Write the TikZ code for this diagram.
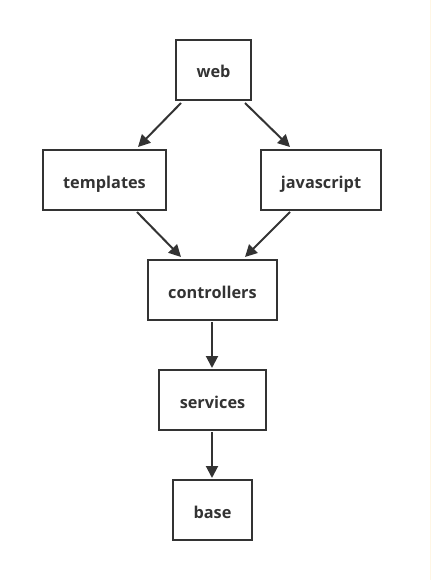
\documentclass[tikz,border=0pt]{standalone}
\usepackage{fontspec}
\setmainfont{Open Sans}
\usetikzlibrary{arrows.meta}
\definecolor{ink}{HTML}{333333}
\begin{document}
\begin{tikzpicture}[x=1pt,y=-1pt,
  box/.style={draw=ink,line width=2pt,minimum height=60pt,inner sep=0pt},
  lbl/.style={font=\fontsize{16.3}{18}\selectfont\bfseries,text=ink,inner sep=0pt,anchor=base},
  arr/.style={draw=ink,line width=2pt,-{Triangle[length=12pt,width=12pt]}}]
\useasboundingbox (0,0) rectangle (431,580);
\draw[color={rgb,255:red,255;green,246;blue,228},line width=1pt] (430,0) -- (430,580);
\node[box,minimum width=75pt] (web) at (213.5,70) {};
\node[box,minimum width=123pt] (tpl) at (104.5,180) {};
\node[box,minimum width=120pt] (js) at (321,180) {};
\node[box,minimum width=129pt] (ctl) at (212.5,290) {};
\node[box,minimum width=107pt] (svc) at (212.5,400) {};
\node[box,minimum width=79pt] (base) at (212.5,510) {};
\node[lbl] (webt) at ([yshift=-8pt]web.center) {web};
\node[lbl] (tplt) at ([yshift=-8pt]tpl.center) {templates};
\node[lbl] (jst) at ([yshift=-8pt]js.center) {javascript};
\node[lbl] (ctlt) at ([yshift=-8pt]ctl.center) {controllers};
\node[lbl] (svct) at ([yshift=-8pt]svc.center) {services};
\node[lbl] (baset) at ([yshift=-8pt]base.center) {base};
\coordinate (a1) at (181,103); \coordinate (a2) at (138,147);
\coordinate (b1) at (245,103); \coordinate (b2) at (290,147);
\coordinate (c1) at (137,212); \coordinate (c2) at (181,257);
\coordinate (d1) at (290,212); \coordinate (d2) at (245,257);
\coordinate (e1) at (212,322); \coordinate (e2) at (212,368);
\coordinate (f1) at (212,432); \coordinate (f2) at (212,478);
\draw[arr] (a1) -- (a2);
\draw[arr] (b1) -- (b2);
\draw[arr] (c1) -- (c2);
\draw[arr] (d1) -- (d2);
\draw[arr] (e1) -- (e2);
\draw[arr] (f1) -- (f2);
\end{tikzpicture}
\end{document}
